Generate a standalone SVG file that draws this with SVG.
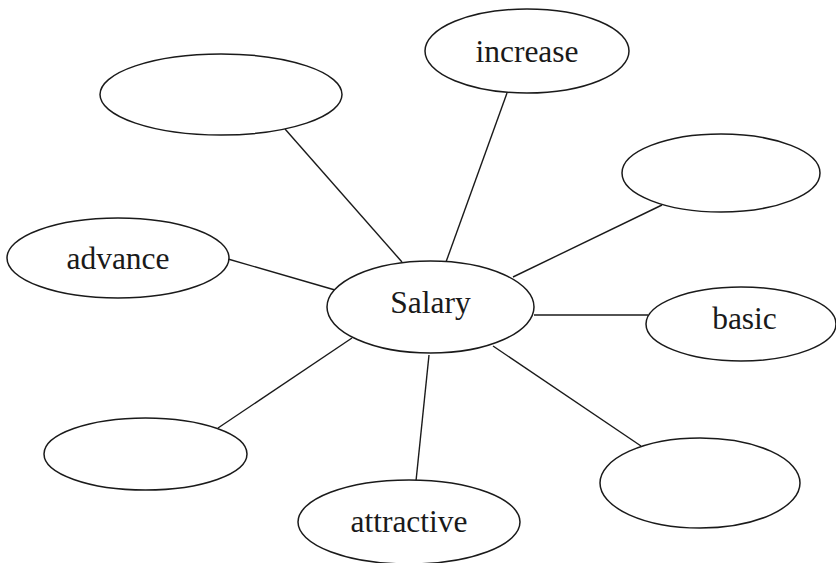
<svg xmlns="http://www.w3.org/2000/svg" width="836" height="563" viewBox="0 0 836 563">
<style>
.n{fill:#fff;stroke:#1a1a1a;stroke-width:1.5}
.c line{stroke:#1a1a1a;stroke-width:1.4}
.t{font-size:31.5px;fill:#1a1a1a;text-anchor:middle}
</style>
<rect width="836" height="563" fill="#fff"/>
<g id="connectors" class="c">
<line x1="285" y1="129" x2="402" y2="262"/>
<line x1="228" y1="259" x2="335" y2="290"/>
<line x1="507" y1="93" x2="446" y2="262"/>
<line x1="662" y1="205" x2="513" y2="277"/>
<line x1="534" y1="315" x2="648" y2="315"/>
<line x1="493" y1="346" x2="641" y2="446"/>
<line x1="429" y1="355" x2="416" y2="481"/>
<line x1="352" y1="338" x2="218" y2="428"/>
</g>
<g id="salary"><ellipse class="n" cx="430.5" cy="307" rx="103.5" ry="46"/><text class="t" font-family="Times New Roman, Tinos, Liberation Serif, DejaVu Serif, serif" x="430.5" y="313">Salary</text></g>
<g id="increase"><ellipse class="n" cx="527" cy="51" rx="102" ry="42"/><text class="t" font-family="Times New Roman, Tinos, Liberation Serif, DejaVu Serif, serif" x="527" y="62">increase</text></g>
<g id="empty-top-left"><ellipse class="n" cx="221" cy="94.5" rx="121" ry="40.5"/></g>
<g id="empty-top-right"><ellipse class="n" cx="721" cy="173" rx="99" ry="39"/></g>
<g id="advance"><ellipse class="n" cx="118" cy="258" rx="111" ry="40"/><text class="t" font-family="Times New Roman, Tinos, Liberation Serif, DejaVu Serif, serif" x="118" y="269">advance</text></g>
<g id="basic"><ellipse class="n" cx="741" cy="324" rx="95" ry="37"/><text class="t" font-family="Times New Roman, Tinos, Liberation Serif, DejaVu Serif, serif" x="744.5" y="329">basic</text></g>
<g id="empty-bottom-left"><ellipse class="n" cx="145.5" cy="454" rx="101.5" ry="36"/></g>
<g id="empty-bottom-right"><ellipse class="n" cx="700" cy="483" rx="100" ry="45"/></g>
<g id="attractive"><ellipse class="n" cx="409" cy="522" rx="111" ry="42"/><text class="t" font-family="Times New Roman, Tinos, Liberation Serif, DejaVu Serif, serif" x="409" y="532">attractive</text></g>
</svg>
